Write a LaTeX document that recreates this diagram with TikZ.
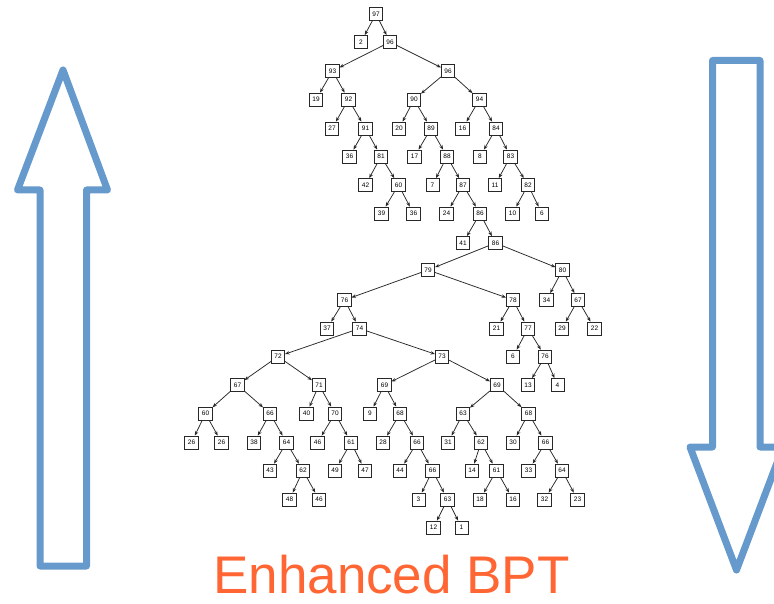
\documentclass[tikz,border=0pt]{standalone}
\usepackage{fontspec}
\setmainfont{Liberation Sans}
\usetikzlibrary{arrows.meta}
\definecolor{arrowblue}{RGB}{102,153,204}
\definecolor{titleorange}{RGB}{255,102,51}
\definecolor{edgegray}{RGB}{40,40,40}

\begin{document}
\begin{tikzpicture}[x=1pt,y=-1pt,
  tn/.style={draw=edgegray, line width=0.8pt, rectangle, minimum height=13pt,
    minimum width=13pt, inner xsep=3pt, inner ysep=0pt,
    font=\fontsize{6.5}{6.5}\selectfont},
  ed/.style={draw=edgegray, line width=0.75pt, -{Stealth[length=4.5pt,width=3.5pt]}},
  bigarrow/.style={draw=arrowblue, line width=7pt, line join=round}]

\fill[white] (0,0) rectangle (774,604);
\clip (0,0) rectangle (774,604);

% hollow arrows at both sides
\draw[bigarrow] (63,70) -- (107.5,190) -- (86.5,190) -- (86.5,566)
  -- (40,566) -- (40,190) -- (17.5,190) -- cycle;
\draw[bigarrow] (712.5,60.5) -- (760,60.5) -- (760,447) -- (783,447)
  -- (736.5,570) -- (690,447) -- (712.5,447) -- cycle;

% caption
\node[text=titleorange, font=\fontsize{53}{53}\selectfont, anchor=base,
  inner sep=0pt] (caption) at (391.5,593.5) {Enhanced BPT};

% tree nodes
\node[tn] (a97) at (376,14) {97};
\node[tn] (l2) at (361,42) {2};
\node[tn] (a96) at (390,42) {96};
\node[tn] (a93) at (332.5,71) {93};
\node[tn] (a95) at (448,71) {96};
\node[tn] (l19) at (316,99.5) {19};
\node[tn] (a92) at (348.5,99.5) {92};
\node[tn] (a90) at (414,99.5) {90};
\node[tn] (a94) at (479.5,99.5) {94};
\node[tn] (l27) at (332,128.5) {27};
\node[tn] (a91) at (365.5,128.5) {91};
\node[tn] (l20) at (399,128.5) {20};
\node[tn] (a89) at (431,128.5) {89};
\node[tn] (l16a) at (462.5,128.5) {16};
\node[tn] (a84) at (496,128.5) {84};
\node[tn] (l36a) at (349.5,156.5) {36};
\node[tn] (a81) at (381,156.5) {81};
\node[tn] (l17) at (414.5,156.5) {17};
\node[tn] (a88) at (447,156.5) {88};
\node[tn] (l8) at (480,156.5) {8};
\node[tn] (a83) at (510.5,156.5) {83};
\node[tn] (l42) at (365.5,185) {42};
\node[tn] (x2) at (398.5,185) {60};
\node[tn] (l7) at (432.5,185) {7};
\node[tn] (a87) at (463,185) {87};
\node[tn] (l11) at (495,185) {11};
\node[tn] (a82) at (528,185) {82};
\node[tn] (l39) at (381.5,213.5) {39};
\node[tn] (l36b) at (413.5,213.5) {36};
\node[tn] (l24) at (446.5,213.5) {24};
\node[tn] (a86) at (480,213.5) {86};
\node[tn] (l10) at (512.5,213.5) {10};
\node[tn] (l6a) at (542,213.5) {6};
\node[tn] (l41) at (463,243) {41};
\node[tn] (a85) at (495.5,243) {86};
\node[tn] (a79) at (428,270) {79};
\node[tn] (a80) at (562.5,270) {80};
\node[tn] (a76) at (344.5,300) {76};
\node[tn] (a78) at (513,300) {78};
\node[tn] (l34) at (546.5,300) {34};
\node[tn] (b67) at (578,300) {67};
\node[tn] (l37) at (327,328.5) {37};
\node[tn] (a74) at (359.5,328.5) {74};
\node[tn] (l21) at (496.5,328.5) {21};
\node[tn] (a77) at (528,328.5) {77};
\node[tn] (l29) at (562,328.5) {29};
\node[tn] (l22) at (594.5,328.5) {22};
\node[tn] (a72) at (278,356.5) {72};
\node[tn] (a73) at (442,356.5) {73};
\node[tn] (l6b) at (513,356.5) {6};
\node[tn] (x6) at (545,356.5) {76};
\node[tn] (a67) at (237.5,385) {67};
\node[tn] (a71) at (319,385) {71};
\node[tn] (c69) at (384.5,385) {69};
\node[tn] (d69) at (497,385) {69};
\node[tn] (l13) at (528,385) {13};
\node[tn] (l4) at (557.5,385) {4};
\node[tn] (a60) at (205.5,413.5) {60};
\node[tn] (a66) at (270,413.5) {66};
\node[tn] (l40) at (306.5,413.5) {40};
\node[tn] (a70) at (335,413.5) {70};
\node[tn] (l9) at (370,413.5) {9};
\node[tn] (c68) at (400,413.5) {68};
\node[tn] (c63) at (463,413.5) {63};
\node[tn] (d68) at (528.5,413.5) {68};
\node[tn] (l26a) at (191.5,442.5) {26};
\node[tn] (l26b) at (221.5,442.5) {26};
\node[tn] (l38) at (254,442.5) {38};
\node[tn] (a64) at (286.5,442.5) {64};
\node[tn] (l46b) at (317.5,442.5) {46};
\node[tn] (a61) at (351,442.5) {61};
\node[tn] (l28) at (383,442.5) {28};
\node[tn] (b66) at (417,442.5) {66};
\node[tn] (l31) at (448,442.5) {31};
\node[tn] (b62) at (481,442.5) {62};
\node[tn] (l30) at (513,442.5) {30};
\node[tn] (c66) at (545.5,442.5) {66};
\node[tn] (l43) at (270,470.5) {43};
\node[tn] (a62) at (303,470.5) {62};
\node[tn] (l49) at (335,470.5) {49};
\node[tn] (l47) at (365,470.5) {47};
\node[tn] (l44) at (400,470.5) {44};
\node[tn] (d66) at (432.5,470.5) {66};
\node[tn] (l14) at (472,470.5) {14};
\node[tn] (b61) at (496.5,470.5) {61};
\node[tn] (l33) at (528.5,470.5) {33};
\node[tn] (b64) at (562,470.5) {64};
\node[tn] (l48) at (289.5,499.5) {48};
\node[tn] (l46a) at (319,499.5) {46};
\node[tn] (l3) at (418.5,499.5) {3};
\node[tn] (b63) at (447.5,499.5) {63};
\node[tn] (l18) at (480,499.5) {18};
\node[tn] (l16b) at (513,499.5) {16};
\node[tn] (l32) at (544.5,499.5) {32};
\node[tn] (l23) at (577.5,499.5) {23};
\node[tn] (l12) at (433.5,527.5) {12};
\node[tn] (l1) at (461.5,527.5) {1};

% parent -> child links
\foreach \p/\c in {a97/l2,a97/a96,a96/a93,a96/a95,a93/l19,a93/a92,
  a95/a90,a95/a94,a92/l27,a92/a91,a90/l20,a90/a89,a94/l16a,a94/a84,
  a91/l36a,a91/a81,a89/l17,a89/a88,a84/l8,a84/a83,a81/l42,a81/x2,
  a88/l7,a88/a87,a83/l11,a83/a82,x2/l39,x2/l36b,a87/l24,a87/a86,
  a82/l10,a82/l6a,a86/l41,a86/a85,a85/a79,a85/a80,a79/a76,a79/a78,
  a80/l34,a80/b67,a76/l37,a76/a74,a78/l21,a78/a77,b67/l29,b67/l22,
  a74/a72,a74/a73,a77/l6b,a77/x6,x6/l13,x6/l4,a72/a67,a72/a71,
  a73/c69,a73/d69,a67/a60,a67/a66,a71/l40,a71/a70,c69/l9,c69/c68,
  d69/c63,d69/d68,a60/l26a,a60/l26b,a66/l38,a66/a64,a70/l46b,a70/a61,
  c68/l28,c68/b66,c63/l31,c63/b62,d68/l30,d68/c66,a64/l43,a64/a62,
  a61/l49,a61/l47,b66/l44,b66/d66,b62/l14,b62/b61,c66/l33,c66/b64,
  a62/l48,a62/l46a,d66/l3,d66/b63,b61/l18,b61/l16b,b64/l32,b64/l23,
  b63/l12,b63/l1}
  \draw[ed] (\p) -- (\c);
\end{tikzpicture}
\end{document}
